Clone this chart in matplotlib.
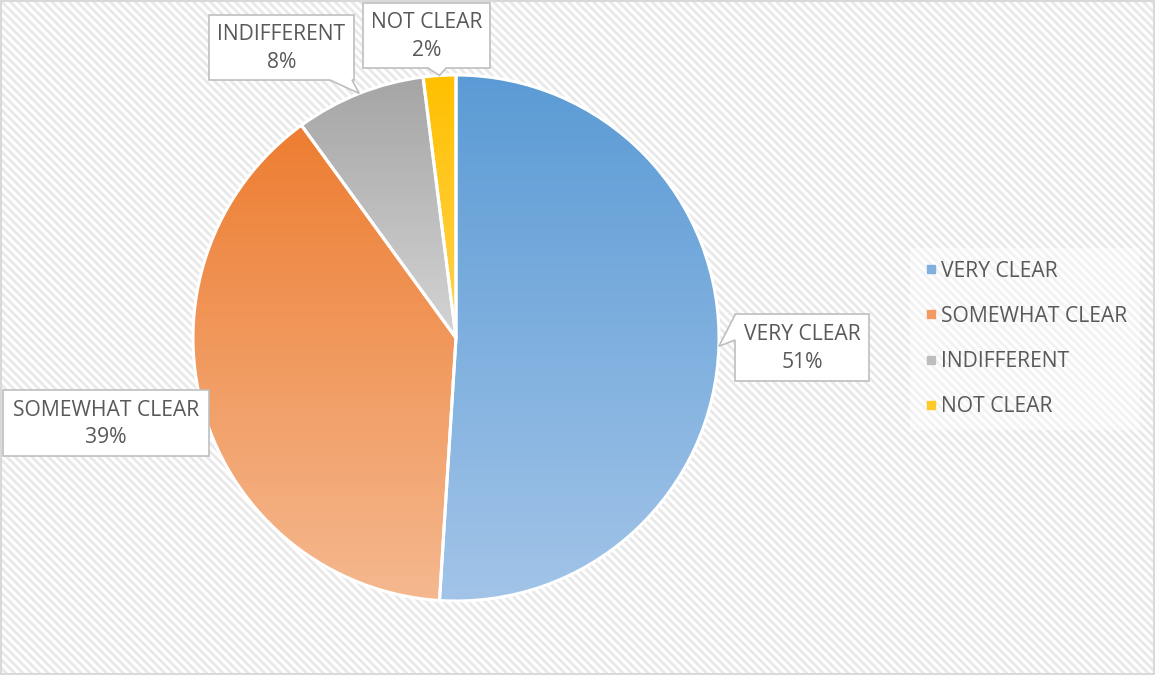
import numpy as np
import matplotlib.pyplot as plt
from matplotlib.patches import Rectangle, Polygon
from matplotlib.lines import Line2D
from matplotlib.colors import to_rgb

plt.rcParams['font.family'] = ['Open Sans', 'DejaVu Sans']
plt.rcParams['hatch.linewidth'] = 2.0

categories = ['VERY CLEAR', 'SOMEWHAT CLEAR', 'INDIFFERENT', 'NOT CLEAR']
shares = [51, 39, 8, 2]
top_colors = ['#5B9BD5', '#ED7D31', '#A5A5A5', '#FFC000']
bottom_colors = ['#A2C4E8', '#F5B88F', '#D4D4D4', '#FFD34F']

TEXT = '#595959'
FS = 15.2
W, H = 1155, 675

fig = plt.figure(figsize=(W / 100, H / 100), dpi=100)
ax = fig.add_axes([0, 0, 1, 1])

# striped chart area with a thin grey border
ax.add_patch(Rectangle((0, 0), W, H, facecolor='white', edgecolor='#E9E9E9',
                       hatch='\\\\\\\\', linewidth=0, zorder=0))
ax.add_patch(Rectangle((1, 1), W - 2, H - 2, facecolor='none',
                       edgecolor='#D9D9D9', linewidth=1.5, zorder=10))

cx, cy, r = 456, 337, 263
wedges, _ = ax.pie(shares, center=(cx, cy), radius=r, startangle=90,
                   counterclock=False, frame=True)

# vertical gradient fill per slice, clipped to the wedge
t = np.linspace(0, 1, 256)[:, None, None]
for w, c0, c1 in zip(wedges, top_colors, bottom_colors):
    ext = w.get_path().get_extents()
    img = (1 - t) * np.array(to_rgb(c0)) + t * np.array(to_rgb(c1))
    im = ax.imshow(img, extent=(ext.x0, ext.x1, ext.y0, ext.y1),
                   origin='upper', aspect='auto', zorder=2,
                   interpolation='bilinear')
    im.set_clip_path(w)
    w.set_facecolor('none')
    w.set_edgecolor('white')
    w.set_linewidth(2.2)
    w.set_zorder(3)


def callout(box, side, span, tip, text):
    x0, y0, x1, y1 = box
    pts = [(x0, y0), (x1, y0), (x1, y1)]
    a, b = span if span else (None, None)
    if side == 'bottom':
        pts += [(b, y1), tip, (a, y1), (x0, y1)]
    elif side == 'left':
        pts += [(x0, y1), (x0, b), tip, (x0, a)]
    else:
        pts += [(x0, y1)]
    pts = [(px, H - py) for px, py in pts]
    ax.add_patch(Polygon(pts, closed=True, facecolor='white',
                         edgecolor='#BFBFBF', linewidth=1.2, zorder=5))
    ax.text((x0 + x1) / 2, H - (y0 + y1) / 2 - 1, text, ha='center',
            va='center', fontsize=FS, color=TEXT, linespacing=1.42, zorder=6)


# label boxes in pixel coordinates (x0, y0, x1, y1), pointer side and span
boxes = [((735, 314, 869, 381), 'left', (315, 340)),
         ((3, 390, 209, 456), None, None),
         ((209, 15, 354, 80), 'bottom', (330, 352)),
         ((363, 3, 490, 68), 'bottom', (428, 446))]

for w, name, val, (box, side, span) in zip(wedges, categories, shares, boxes):
    mid = np.deg2rad((w.theta1 + w.theta2) / 2)
    tip = (cx + r * np.cos(mid), H - (cy + r * np.sin(mid)))
    callout(box, side, span, tip, f'{name}\n{val}%')

handles = [Line2D([], [], marker='s', linestyle='', markersize=6.3,
                  color=tuple((np.array(to_rgb(a)) + np.array(to_rgb(b))) / 2))
           for a, b in zip(top_colors, bottom_colors)]
leg = ax.legend(handles, categories, loc='center left',
                bbox_to_anchor=(899 / W, 1 - 339 / H), frameon=True,
                fontsize=FS, labelspacing=1.15, handletextpad=0.1,
                handlelength=0.8, borderpad=0.6, labelcolor=TEXT)
leg.get_frame().set_facecolor('white')
leg.get_frame().set_alpha(0.45)
leg.get_frame().set_edgecolor('none')
leg.get_frame().set_boxstyle('square', pad=0)

ax.set_xlim(0, W)
ax.set_ylim(0, H)
ax.axis('off')

fig.savefig('out.png', dpi=100)
